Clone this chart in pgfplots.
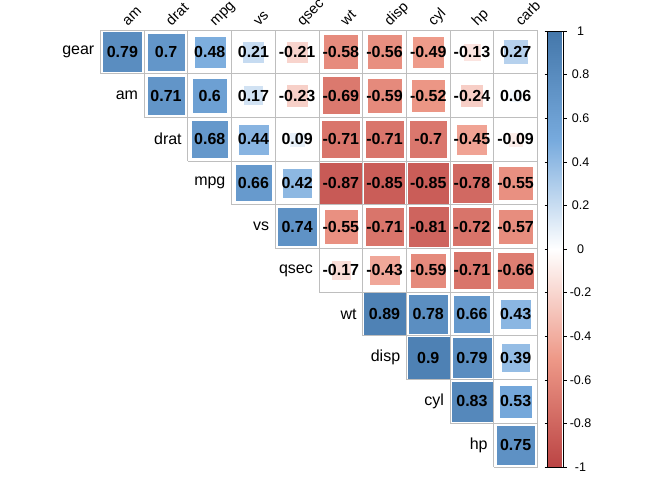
\documentclass[border=0pt]{standalone}
\usepackage{pgfplots}
\pgfplotsset{compat=1.18}
\usepackage{pgfplotstable}
\usepackage{fontspec}
\setmainfont{Liberation Sans}

% correlation cells: column index, row index, value
\pgfplotstableread{
x y v
0 0 0.79
1 0 0.7
2 0 0.48
3 0 0.21
4 0 -0.21
5 0 -0.58
6 0 -0.56
7 0 -0.49
8 0 -0.13
9 0 0.27
1 1 0.71
2 1 0.6
3 1 0.17
4 1 -0.23
5 1 -0.69
6 1 -0.59
7 1 -0.52
8 1 -0.24
9 1 0.06
2 2 0.68
3 2 0.44
4 2 0.09
5 2 -0.71
6 2 -0.71
7 2 -0.7
8 2 -0.45
9 2 -0.09
3 3 0.66
4 3 0.42
5 3 -0.87
6 3 -0.85
7 3 -0.85
8 3 -0.78
9 3 -0.55
4 4 0.74
5 4 -0.55
6 4 -0.71
7 4 -0.81
8 4 -0.72
9 4 -0.57
5 5 -0.17
6 5 -0.43
7 5 -0.59
8 5 -0.71
9 5 -0.66
6 6 0.89
7 6 0.78
8 6 0.66
9 6 0.43
7 7 0.9
8 7 0.79
9 7 0.39
8 8 0.83
9 8 0.53
9 9 0.75
}\cells

\pgfplotstableread{
x y t
-0.5 0 gear
0.5 1 am
1.5 2 drat
2.5 3 mpg
3.5 4 vs
4.5 5 qsec
5.5 6 wt
6.5 7 disp
7.5 8 cyl
8.5 9 hp
}\rowlabels

\pgfplotstableread{
x y t
0 -0.5 am
1 -0.5 drat
2 -0.5 mpg
3 -0.5 vs
4 -0.5 qsec
5 -0.5 wt
6 -0.5 disp
7 -0.5 cyl
8 -0.5 hp
9 -0.5 carb
}\collabels

\pgfplotstableread{
x y
-0.5 -0.5
9.5 -0.5
nan nan
-0.5 0.5
9.5 0.5
nan nan
0.5 1.5
9.5 1.5
nan nan
1.5 2.5
9.5 2.5
nan nan
2.5 3.5
9.5 3.5
nan nan
3.5 4.5
9.5 4.5
nan nan
4.5 5.5
9.5 5.5
nan nan
5.5 6.5
9.5 6.5
nan nan
6.5 7.5
9.5 7.5
nan nan
7.5 8.5
9.5 8.5
nan nan
8.5 9.5
9.5 9.5
nan nan
-0.5 -0.5
-0.5 0.5
nan nan
0.5 -0.5
0.5 1.5
nan nan
1.5 -0.5
1.5 2.5
nan nan
2.5 -0.5
2.5 3.5
nan nan
3.5 -0.5
3.5 4.5
nan nan
4.5 -0.5
4.5 5.5
nan nan
5.5 -0.5
5.5 6.5
nan nan
6.5 -0.5
6.5 7.5
nan nan
7.5 -0.5
7.5 8.5
nan nan
8.5 -0.5
8.5 9.5
nan nan
9.5 -0.5
9.5 9.5
}\gridlines

\definecolor{cellgrid}{RGB}{190,190,190}

\begin{document}
\begin{tikzpicture}
\path[use as bounding box] (0,0) rectangle (672pt,-480pt);
\begin{axis}[
    at={(100.5pt,-30pt)}, anchor=north west,
    scale only axis, width=437pt, height=437pt,
    xmin=-0.5, xmax=9.5, ymin=-0.5, ymax=9.5,
    y dir=reverse,
    axis line style={draw=none},
    xtick=\empty, ytick=\empty,
    clip=false,
    unbounded coords=jump,
    font=\fontsize{16}{19}\selectfont,
    colormap={corr}{rgb255(0cm)=(187,68,68) rgb255(1cm)=(238,153,136)
        rgb255(2cm)=(255,255,255) rgb255(3cm)=(119,170,221) rgb255(4cm)=(68,119,170)},
    point meta min=-1, point meta max=1,
    colorbar,
    colorbar style={
        at={(parent axis.north east)}, anchor=north west,
        xshift=1.5pt, yshift=-1pt,
        width=16pt, height=436pt,
        axis line style={draw=black, line width=0.8pt},
        ytick={-1,-0.8,-0.6,-0.4,-0.2,0,0.2,0.4,0.6,0.8,1},
        yticklabels={-1,-0.8,-0.6,-0.4,-0.2,0,0.2,0.4,0.6,0.8,1},
        yticklabel pos=right,
        tick align=outside,
        major tick length=3pt,
        major tick style={draw=black, line width=0.6pt},
        yticklabel style={anchor=center, xshift=14pt,
            font=\fontsize{12.5}{14}\selectfont},
    },
]
\addplot[draw=cellgrid, line width=0.9pt, forget plot] table {\gridlines};

\addplot[scatter, only marks, mark=square*, forget plot,
    line width=0.3pt,
    point meta=\thisrow{v},
    scatter/use mapped color={draw=mapped color, fill=mapped color},
    visualization depends on={21.7*sqrt(abs(\thisrow{v})) \as \msize},
    scatter/@pre marker code/.append style={/tikz/mark size=\msize pt}]
    table[x=x, y=y] {\cells};

\addplot[only marks, mark=none, forget plot,
    point meta=explicit symbolic,
    nodes near coords,
    nodes near coords style={anchor=center, font=\fontsize{16}{19}\selectfont\bfseries}]
    table[x=x, y=y, meta=v] {\cells};

\addplot[only marks, mark=none, forget plot,
    point meta=explicit symbolic,
    nodes near coords,
    nodes near coords style={anchor=east, inner xsep=6pt}]
    table[x=x, y=y, meta=t] {\rowlabels};

\addplot[only marks, mark=none, forget plot,
    point meta=explicit symbolic,
    nodes near coords,
    nodes near coords style={anchor=base west, inner sep=0pt,
        xshift=5.5pt, yshift=3.5pt, rotate=45,
        font=\fontsize{14.5}{17}\selectfont}]
    table[x=x, y=y, meta=t] {\collabels};
\end{axis}
\end{tikzpicture}
\end{document}
